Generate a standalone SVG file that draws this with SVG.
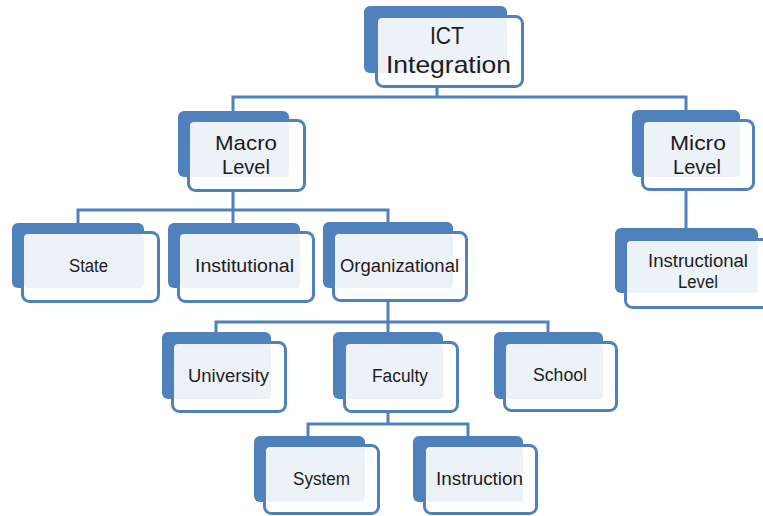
<svg xmlns="http://www.w3.org/2000/svg" width="763" height="516" viewBox="0 0 763 516">
<style>
.bg{fill:#ffffff}
.back{fill:#4F81BD}
.frame{fill:#ffffff;stroke:#4F81BD;stroke-width:3}
.lite{fill:#EDF2F9}
.conn{fill:none;stroke:#4F81BD;stroke-width:3;stroke-linejoin:miter}
text{font-family:"Liberation Sans","Noto Sans",sans-serif;fill:#1c1c1c;text-anchor:middle}
.s{font-size:18px}
.m{font-size:21px}
.l{font-size:24px}
</style>
<rect class="bg" x="0" y="0" width="763" height="516"/>
<g id="connectors">
<path class="conn" d="M437 87 V97"/>
<path class="conn" d="M233 111 V97 H686 V110"/>
<path class="conn" d="M233 191 V223"/>
<path class="conn" d="M78 223 V210 H388 V222"/>
<path class="conn" d="M686 190 V228"/>
<path class="conn" d="M388 301 V332"/>
<path class="conn" d="M216 332 V322 H548 V332"/>
<path class="conn" d="M388 412 V424"/>
<path class="conn" d="M308 436 V424 H468 V436"/>
</g>
<g id="ict">
<rect class="back" x="364" y="6" width="143" height="67" rx="6"/>
<rect class="frame" x="376.5" y="16.5" width="146" height="70" rx="7"/>
<rect class="lite" x="378" y="18" width="129" height="55" rx="4"/>
<text class="l" x="447" y="44" textLength="34" lengthAdjust="spacingAndGlyphs">ICT</text>
<text class="l" x="448.5" y="73" textLength="125" lengthAdjust="spacingAndGlyphs">Integration</text>
</g>
<g id="macro">
<rect class="back" x="178" y="111" width="111" height="66" rx="6"/>
<rect class="frame" x="188.5" y="120.5" width="116" height="70" rx="7"/>
<rect class="lite" x="190" y="122" width="99" height="55" rx="4"/>
<text class="m" x="246" y="150" textLength="62" lengthAdjust="spacingAndGlyphs">Macro</text>
<text class="m" x="246" y="174" textLength="48" lengthAdjust="spacingAndGlyphs">Level</text>
</g>
<g id="micro">
<rect class="back" x="632" y="110" width="108" height="67" rx="6"/>
<rect class="frame" x="642.5" y="120.5" width="111" height="69" rx="7"/>
<rect class="lite" x="644" y="122" width="96" height="55" rx="4"/>
<text class="m" x="698" y="150" textLength="56" lengthAdjust="spacingAndGlyphs">Micro</text>
<text class="m" x="697" y="174" textLength="48" lengthAdjust="spacingAndGlyphs">Level</text>
</g>
<g id="state">
<rect class="back" x="12" y="223" width="132" height="65" rx="6"/>
<rect class="frame" x="22.5" y="232.5" width="136" height="69" rx="7"/>
<rect class="lite" x="24" y="234" width="120" height="54" rx="4"/>
<text class="s" x="88.5" y="272" textLength="39" lengthAdjust="spacingAndGlyphs">State</text>
</g>
<g id="institutional">
<rect class="back" x="168" y="223" width="132" height="65" rx="6"/>
<rect class="frame" x="178.5" y="232.5" width="135" height="69" rx="7"/>
<rect class="lite" x="180" y="234" width="120" height="54" rx="4"/>
<text class="s" x="244.5" y="272" textLength="99" lengthAdjust="spacingAndGlyphs">Institutional</text>
</g>
<g id="organizational">
<rect class="back" x="323" y="222" width="130" height="66" rx="6"/>
<rect class="frame" x="333.5" y="232.5" width="133" height="68" rx="7"/>
<rect class="lite" x="335" y="234" width="118" height="54" rx="4"/>
<text class="s" x="399.5" y="272" textLength="119" lengthAdjust="spacingAndGlyphs">Organizational</text>
</g>
<g id="instructional-level">
<rect class="back" x="615" y="228" width="143" height="65" rx="6"/>
<rect class="frame" x="625.5" y="239.5" width="150" height="68" rx="7"/>
<rect class="lite" x="627" y="241" width="131" height="52" rx="4"/>
<text class="s" x="698" y="267" textLength="100" lengthAdjust="spacingAndGlyphs">Instructional</text>
<text class="s" x="698" y="288" textLength="40" lengthAdjust="spacingAndGlyphs">Level</text>
</g>
<g id="university">
<rect class="back" x="162" y="332" width="109" height="67" rx="6"/>
<rect class="frame" x="172.5" y="342.5" width="113" height="69" rx="7"/>
<rect class="lite" x="174" y="344" width="97" height="55" rx="4"/>
<text class="s" x="228.5" y="382" textLength="81" lengthAdjust="spacingAndGlyphs">University</text>
</g>
<g id="faculty">
<rect class="back" x="333" y="332" width="110" height="67" rx="6"/>
<rect class="frame" x="344.5" y="342.5" width="113" height="69" rx="7"/>
<rect class="lite" x="346" y="344" width="97" height="55" rx="4"/>
<text class="s" x="400" y="382" textLength="56" lengthAdjust="spacingAndGlyphs">Faculty</text>
</g>
<g id="school">
<rect class="back" x="494" y="332" width="109" height="67" rx="6"/>
<rect class="frame" x="504.5" y="342.5" width="112" height="68" rx="7"/>
<rect class="lite" x="506" y="344" width="97" height="55" rx="4"/>
<text class="s" x="560" y="381" textLength="54" lengthAdjust="spacingAndGlyphs">School</text>
</g>
<g id="system">
<rect class="back" x="254" y="436" width="111" height="66" rx="6"/>
<rect class="frame" x="264.5" y="445.5" width="114" height="68" rx="7"/>
<rect class="lite" x="266" y="447" width="99" height="55" rx="4"/>
<text class="s" x="321.5" y="485" textLength="57" lengthAdjust="spacingAndGlyphs">System</text>
</g>
<g id="instruction">
<rect class="back" x="413" y="436" width="110" height="66" rx="6"/>
<rect class="frame" x="424.5" y="445.5" width="112" height="68" rx="7"/>
<rect class="lite" x="426" y="447" width="97" height="55" rx="4"/>
<text class="s" x="479.5" y="485" textLength="87" lengthAdjust="spacingAndGlyphs">Instruction</text>
</g>
</svg>
